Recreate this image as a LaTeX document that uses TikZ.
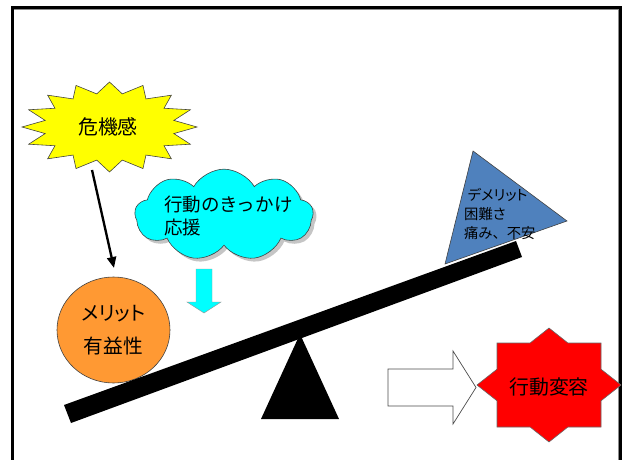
\documentclass[tikz,border=0pt]{standalone}
\usepackage{fontspec}
\newfontfamily\jpf[RawFeature=+palt]{Noto Sans CJK JP}
\newfontfamily\jpw{Noto Sans CJK JP}
\usetikzlibrary{shapes.symbols,shapes.geometric,shadows,arrows.meta}
\definecolor{triblue}{RGB}{79,129,189}
\definecolor{meritorange}{RGB}{255,153,51}
\definecolor{skycyan}{RGB}{0,255,255}
\definecolor{sunyellow}{RGB}{255,255,0}
\definecolor{sealred}{RGB}{255,0,0}
\begin{document}
\begin{tikzpicture}[x=0.03cm,y=-0.03cm,
  bigtxt/.style={font=\jpf\fontsize{17pt}{20pt}\selectfont, inner sep=0pt},
  cloudtxt/.style={font=\jpw\fontsize{15.8pt}{19.6pt}\selectfont, align=left, inner sep=0pt},
  merittxt/.style={font=\jpf\fontsize{16.8pt}{28pt}\selectfont, align=center},
  bluetxt/.style={font=\jpf\fontsize{12.2pt}{16.2pt}\selectfont, align=left, inner sep=0pt},
  outline/.style={draw=black!75, line width=0.5pt},
  framestyle/.style={line width=0.09cm, black}]
\useasboundingbox (0,0) rectangle (627,460);
% frame
\draw[black!45, line width=0.03cm] (14,9.7) -- (618.6,9.7) -- (618.6,460);
\draw[framestyle] (12.5,460) -- (12.5,7.5) -- (620.8,7.5) -- (620.8,460);
% yellow explosion
\filldraw[fill=sunyellow, outline] plot[samples at={0,...,31}, variable=\i]
  ({109.5+87.5*(0.875+0.125*cos(\i*180))*cos(90+\i*11.25)},
   {127-45*(0.875+0.125*cos(\i*180))*sin(90+\i*11.25)}) -- cycle;
\node[bigtxt] (kiki) at (108,127) {危機感};
% black arrow
\coordinate (a1) at (92,170);
\coordinate (a2) at (114,268);
\draw[line width=2pt, -{Triangle[length=0.33cm,width=0.27cm]}] (a1) -- (a2);
% cloud
\node[cloud, cloud puffs=9, cloud puff arc=120, aspect=2.1,
  minimum width=5.35cm, minimum height=2.75cm, fill=skycyan, outline,
  drop shadow={shadow xshift=0.1cm, shadow yshift=-0.1cm, fill=black!45}] (cloud) at (224,215) {};
\node[cloudtxt, anchor=west] (cloudtext) at (164,216) {行動のきっかけ\\応援};
% cyan down arrow
\filldraw[fill=skycyan, draw=black!40, line width=0.4pt]
  (196,269) -- (212,269) -- (212,302) -- (221,302) -- (204,313) -- (187,302) -- (196,302) -- cycle;
% merit circle
\node[ellipse, minimum width=3.39cm, minimum height=3.18cm, fill=meritorange, outline, merittxt, inner sep=0pt] (merit) at (113.5,330) {メリット\\有益性};
% fulcrum
\fill[black] (300,334) -- (339,419) -- (261,419) -- cycle;
% beam
\fill[black] (64,405) -- (516,241) -- (522,257) -- (71,423) -- cycle;
% blue triangle
\filldraw[fill=triblue, outline] (473,151) -- (567,221) -- (445,264) -- cycle;
\node[bluetxt, anchor=west] (demerit) at (464,214) {\hspace{3pt}デメリット\\困難さ\\痛み{\jpw 、}不安};
% white block arrow
\filldraw[fill=white, draw=black!70, line width=0.6pt]
  (388,369) -- (453,369) -- (453,351) -- (476,387.5) -- (453,424) -- (453,406) -- (388,406) -- cycle;
% red seal
\begin{scope}[shift={(549,385)}]
\filldraw[fill=sealred, draw=black!60, line width=0.5pt]
  (0,-57) -- (18.9,-42) -- (52,-42) -- (52,-15.8) -- (72,0) -- (52,15.8) -- (52,42) -- (18.9,42) --
  (0,57) -- (-18.9,42) -- (-52,42) -- (-52,15.8) -- (-72,0) -- (-52,-15.8) -- (-52,-42) -- (-18.9,-42) -- cycle;
\end{scope}
\node[bigtxt] (henyo) at (549,387) {行動変容};
\end{tikzpicture}
\end{document}
